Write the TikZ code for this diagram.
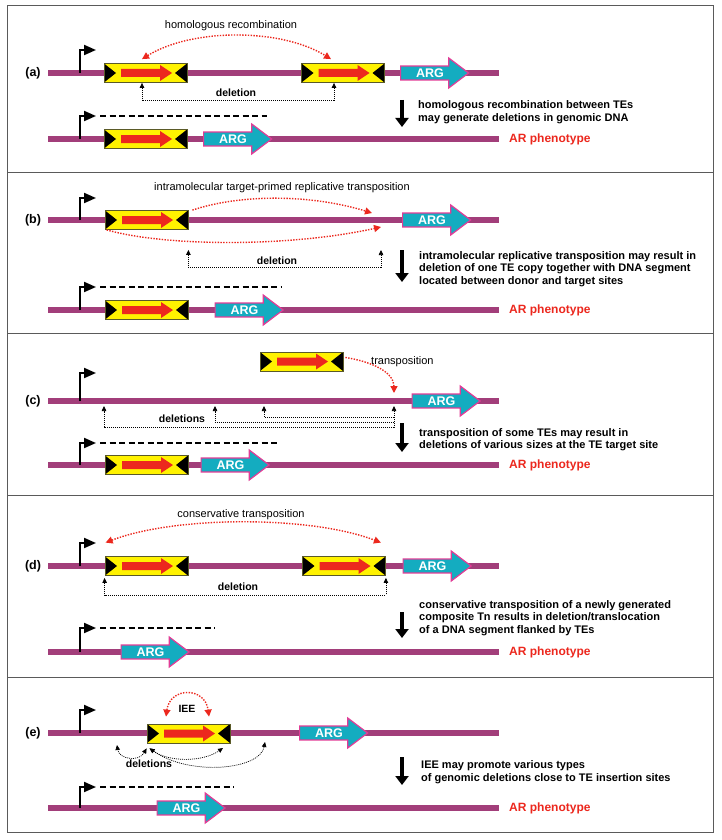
\documentclass[tikz,border=0pt]{standalone}
\usepackage{fontspec}
\setmainfont{Liberation Sans}
\usepackage{tikz}
\usetikzlibrary{positioning, arrows.meta, shapes.arrows}
\usepackage{xcolor}

\definecolor{dnapurple}{RGB}{162,62,122}
\definecolor{argcyan}{RGB}{20,172,192}
\definecolor{argpink}{RGB}{226,60,150}
\definecolor{teyellow}{RGB}{255,242,0}
\definecolor{teedge}{RGB}{90,90,40}
\definecolor{tered}{RGB}{236,40,30}
\definecolor{framegray}{RGB}{90,90,90}

\begin{document}
\begin{tikzpicture}[
    x=1pt,
    y=1pt,
    inner sep=0pt,
    font=\fontsize{11}{12.5}\selectfont
]

\tikzstyle{frame}=[draw=framegray, line width=1pt]
\tikzstyle{dnaline}=[draw=dnapurple, line width=6pt]
\tikzstyle{prom}=[line width=2pt, -{Triangle[length=12pt,width=10pt]}]
\tikzstyle{transcript}=[line width=1.6pt, dash pattern=on 6pt off 3.5pt]
\tikzstyle{resultarrow}=[line width=3.5pt, -{Triangle[length=9pt,width=13pt]}]
\tikzstyle{tearc}=[draw=tered, line width=1.4pt, dash pattern=on 1.4pt off 1.4pt,
    >={Triangle[length=7pt,width=7pt]}]
\tikzstyle{delline}=[draw=black, line width=0.7pt, dash pattern=on 1pt off 1pt,
    >={Triangle[length=5pt,width=4.5pt]}]
\tikzstyle{note}=[font=\fontsize{11}{13}\selectfont]
\tikzstyle{lbl}=[font=\fontsize{10.5}{12}\selectfont\bfseries]
\tikzstyle{panel}=[font=\fontsize{12.5}{14}\selectfont\bfseries]
\tikzstyle{result}=[anchor=west, align=left, font=\fontsize{11}{12.5}\selectfont\bfseries]
\tikzstyle{pheno}=[text=tered, font=\fontsize{12}{14}\selectfont\bfseries]
\tikzstyle{te}=[
    rectangle,
    draw=teedge,
    fill=teyellow,
    line width=0.8pt,
    minimum width=83pt,
    minimum height=19pt,
    path picture={
        \fill[black] (path picture bounding box.north west) -- ([xshift=12pt]path picture bounding box.west)
            -- (path picture bounding box.south west) -- cycle;
        \fill[black] (path picture bounding box.north east) -- ([xshift=-12pt]path picture bounding box.east)
            -- (path picture bounding box.south east) -- cycle;
        \fill[tered] ([xshift=17pt,yshift=4pt]path picture bounding box.west) -- ++(39pt,0pt) -- ++(0pt,4pt)
            -- ++(12pt,-8pt) -- ++(-12pt,-8pt) -- ++(0pt,4pt) -- ++(-39pt,0pt) -- cycle;
    }
]
\tikzstyle{arg}=[
    single arrow,
    draw=argpink,
    fill=argcyan,
    line width=1.2pt,
    text=white,
    font=\fontsize{12.5}{14}\selectfont\bfseries,
    minimum height=68pt,
    minimum width=30pt,
    single arrow head extend=7pt,
    single arrow tip angle=74,
    single arrow head indent=0pt,
    inner sep=1pt
]

\path[use as bounding box, fill=white] (0,0) rectangle (721,-840);

\node[panel] (a-tag) at (33,-73) {(a)};
\draw[dnaline] (48,-73) -- (499,-73);
\draw[prom] (80,-73) |- (96,-50);
\node[te] (a-te1) at (145.5,-73) {};
\node[te] (a-te2) at (343,-73) {};
\node[arg] (a-arg1) at (430,-73) {ARG};
\node[note] (a-hr) at (231,-26) {homologous recombination};
\draw[tearc, <->] ([shift={(-3.5pt,4pt)}]a-te1.north) .. controls +(50,31) and +(-50,31) .. ([shift={(-12pt,4pt)}]a-te2.north);
\draw[delline, <->] ([xshift=-3.5pt]a-te1.south) -- ++(0,-17.5) -| ([xshift=-9pt]a-te2.south);
\node[lbl] (a-del) at (236,-93) {deletion};
\coordinate (a-top) at (402,-100);
\coordinate (a-bot) at (402,-127);
\draw[resultarrow] (a-top) -- (a-bot);
\node[result] (a-res) at (418,-112) {homologous recombination between TEs\\may generate deletions in genomic DNA};
\draw[dnaline] (48,-139) -- (499,-139) coordinate (a-end);
\node[pheno, right=10pt of a-end] (a-ar) {AR phenotype};
\draw[prom] (80,-139) |- (96,-116);
\draw[transcript] (100,-116) -- (267,-116);
\node[te] (a-te3) at (145.5,-139) {};
\node[arg] (a-arg2) at (233,-139) {ARG};

\node[panel] (b-tag) at (33,-220) {(b)};
\draw[dnaline] (48,-220) -- (499,-220);
\draw[prom] (80,-220) |- (96,-198);
\node[te] (b-te1) at (146.5,-220) {};
\node[arg] (b-arg1) at (432,-220) {ARG};
\coordinate (b-site) at (378,-220);
\node[note] (b-itp) at (282,-188) {intramolecular target-primed replicative transposition};
\draw[tearc, ->] ([xshift=4pt]b-te1.north east) .. controls +(48,16) and +(-62,19) .. ([shift={(-6pt,7pt)}]b-site);
\draw[tearc, ->] ([xshift=2pt]b-te1.south west) .. controls +(60,-17) and +(-90,-20) .. ([shift={(3pt,-7pt)}]b-site);
\draw[delline, <->] ([yshift=-20pt]b-te1.south east) -- ++(0,-17) -| ([shift={(3pt,-30pt)}]b-site);
\node[lbl] (b-del) at (277,-261) {deletion};
\coordinate (b-top) at (402,-250);
\coordinate (b-bot) at (402,-282);
\draw[resultarrow] (b-top) -- (b-bot);
\node[result] (b-res) at (419,-269) {intramolecular replicative transposition may result in\\deletion of one TE copy together with DNA segment\\located between donor and target sites};
\draw[dnaline] (48,-310) -- (499,-310) coordinate (b-end);
\node[pheno, right=10pt of b-end] (b-ar) {AR phenotype};
\draw[prom] (80,-310) |- (96,-287);
\draw[transcript] (100,-287) -- (282,-287);
\node[te] (b-te2) at (146.5,-310) {};
\node[arg] (b-arg2) at (244.5,-310) {ARG};

\node[panel] (c-tag) at (33,-401) {(c)};
\draw[dnaline] (48,-401) -- (499,-401);
\draw[prom] (80,-401) |- (96,-373);
\node[te] (c-te1) at (301.5,-361.5) {};
\node[arg] (c-arg1) at (441.5,-401) {ARG};
\coordinate (c-site) at (394,-401);
\node[note, anchor=west] (c-tp) at (371,-362) {transposition};
\draw[tearc, ->] ([shift={(2pt,4pt)}]c-te1.east) .. controls +(26,-4) and +(0,21) .. ([yshift=8pt]c-site);
\coordinate (c-d1) at (104,-406);
\coordinate (c-d2) at (215,-406);
\coordinate (c-d3) at (264,-406);
\draw[delline, <->] ([yshift=-5pt]c-site) -- ++(0,-21) -| (c-d1);
\draw[delline, ->] ([yshift=-21pt]c-site) -| (c-d2);
\draw[delline, ->] ([yshift=-16pt]c-site) -| (c-d3);
\node[lbl] (c-del) at (182,-419) {deletions};
\coordinate (c-top) at (402,-423);
\coordinate (c-bot) at (402,-452);
\draw[resultarrow] (c-top) -- (c-bot);
\node[result] (c-res) at (419,-439.5) {transposition of some TEs may result in\\deletions of various sizes at the TE target site};
\draw[dnaline] (48,-465) -- (499,-465) coordinate (c-end);
\node[pheno, right=10pt of c-end] (c-ar) {AR phenotype};
\draw[prom] (80,-465) |- (96,-443);
\draw[transcript] (100,-443) -- (277,-443);
\node[te] (c-te2) at (146.5,-465) {};
\node[arg] (c-arg2) at (230.5,-465) {ARG};

\node[panel] (d-tag) at (33,-566) {(d)};
\draw[dnaline] (48,-566) -- (499,-566);
\draw[prom] (80,-566) |- (96,-543);
\node[te] (d-te1) at (146.5,-566) {};
\node[te] (d-te2) at (344,-566) {};
\node[arg] (d-arg1) at (432.5,-566) {ARG};
\node[note] (d-ct) at (241,-515) {conservative transposition};
\draw[tearc, <->] ([shift={(1pt,13.5pt)}]d-te1.north west) .. controls +(70,27) and +(-70,27) .. ([shift={(-5pt,13.5pt)}]d-te2.north east);
\draw[delline, <->] ([yshift=-2pt]d-te1.south west) -- ++(0,-17) -| ([yshift=-2pt]d-te2.south east);
\node[lbl] (d-del) at (238,-587) {deletion};
\coordinate (d-top) at (402,-612);
\coordinate (d-bot) at (402,-638);
\draw[resultarrow] (d-top) -- (d-bot);
\node[result] (d-res) at (419,-618) {conservative transposition of a newly generated\\composite Tn results in deletion/translocation\\of a DNA segment flanked by TEs};
\draw[dnaline] (48,-652) -- (499,-652) coordinate (d-end);
\node[pheno, right=10pt of d-end] (d-ar) {AR phenotype};
\draw[prom] (80,-652) |- (96,-628);
\draw[transcript] (100,-628) -- (215,-628);
\node[arg] (d-arg2) at (150.5,-652) {ARG};

\node[panel] (e-tag) at (33,-733) {(e)};
\draw[dnaline] (48,-733) -- (499,-733);
\draw[prom] (80,-733) |- (96,-710);
\node[te] (e-te1) at (188.5,-733.5) {};
\node[arg] (e-arg1) at (329,-733) {ARG};
\node[lbl] (e-iee) at (187,-709) {IEE};
\draw[tearc, <->] ([shift={(-22.5pt,7pt)}]e-te1.north) .. controls +(4,30) and +(-4,30) .. ([shift={(20.5pt,7pt)}]e-te1.north);
\coordinate (e-d1) at (117,-745);
\coordinate (e-d2) at (223,-748);
\coordinate (e-d3) at (265,-742);
\draw[delline, <->] ([yshift=-5pt]e-te1.south west) .. controls +(-8,-14) and +(2,-14) .. (e-d1);
\draw[delline, <->] ([shift={(3pt,-5pt)}]e-te1.south west) .. controls +(20,-14) and +(-20,-14) .. (e-d2);
\draw[delline, <->] ([shift={(3pt,-5pt)}]e-te1.south west) .. controls +(40,-28) and +(-5,-28) .. (e-d3);
\node[lbl] (e-del) at (149,-764) {deletions};
\coordinate (e-top) at (402,-757);
\coordinate (e-bot) at (402,-785);
\draw[resultarrow] (e-top) -- (e-bot);
\node[result] (e-res) at (421,-772) {IEE may promote various types\\of genomic deletions close to TE insertion sites};
\draw[dnaline] (48,-808) -- (499,-808) coordinate (e-end);
\node[pheno, right=10pt of e-end] (e-ar) {AR phenotype};
\draw[prom] (80,-808) |- (96,-787);
\draw[transcript] (100,-787) -- (234,-787);
\node[arg] (e-arg2) at (186.5,-808) {ARG};

\draw[frame] (7,-6) rectangle (713,-832);
\foreach \y in {172,333,495,677}
    \draw[frame] (7,-\y) -- (713,-\y);

\end{tikzpicture}
\end{document}
